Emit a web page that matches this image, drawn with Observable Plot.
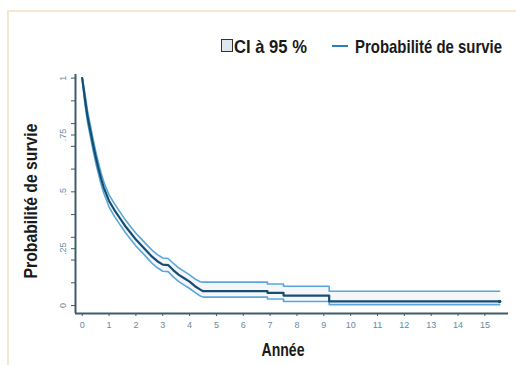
<!DOCTYPE html>
<html>
<head>
<meta charset="utf-8">
<script src="https://cdn.jsdelivr.net/npm/d3@7"></script>
<script src="https://cdn.jsdelivr.net/npm/@observablehq/plot@0.6"></script>
<style>
  html, body { margin: 0; padding: 0; background: #fff; }
  #wrap { position: relative; width: 516px; height: 365px; overflow: hidden; }
  #frame { position: absolute; left: 7px; top: 10px; width: 520px; height: 370px; border-top: 2px solid #f3e7cf; border-left: 2px solid #f3e7cf; }
  #chart { position: absolute; left: 0; top: 0; }
  #legend { position: absolute; left: 0; top: 0; }
</style>
</head>
<body>
<div id="wrap">
  <div id="frame"></div>
  <div id="chart"></div>
  <svg id="legend" width="516" height="60" font-family="'Liberation Sans', Arial, sans-serif" font-weight="bold" font-size="15" fill="#1a1a1a">
    <rect x="221.5" y="39.5" width="11" height="12" fill="#dfe8f1" stroke="#333" stroke-width="1"></rect>
    <text transform="translate(234,52.5) scale(1,1.2)" textLength="73" lengthAdjust="spacingAndGlyphs">CI à 95 %</text>
    <line x1="332" x2="348" y1="46" y2="46" stroke="#2f7dbd" stroke-width="2"></line>
    <text transform="translate(355,52.5) scale(1,1.2)" textLength="147" lengthAdjust="spacingAndGlyphs">Probabilité de survie</text>
  </svg>
</div>
<script>
// Vertices of the Kaplan-Meier curve (repeated year = vertical step)
const years = [0, 0.1, 0.2, 0.3, 0.4, 0.5, 0.6, 0.7, 0.8, 0.9, 1.0, 1.2, 1.4, 1.6, 1.8, 2.0, 2.2, 2.4, 2.6, 2.8, 3.0, 3.2, 3.4, 3.6, 3.8, 4.0, 4.2, 4.4, 4.5, 6.9, 6.9, 7.5, 7.5, 9.2, 9.2, 15.55];
// Survival probability
const survival = [1.0, 0.91, 0.83, 0.77, 0.71, 0.655, 0.605, 0.56, 0.52, 0.49, 0.46, 0.42, 0.385, 0.35, 0.32, 0.29, 0.265, 0.24, 0.215, 0.195, 0.18, 0.178, 0.155, 0.135, 0.12, 0.105, 0.085, 0.07, 0.063, 0.063, 0.056, 0.056, 0.044, 0.044, 0.018, 0.018];
// 95% CI upper bound
const ciUpper = [1.0, 0.935, 0.855, 0.795, 0.735, 0.68, 0.63, 0.585, 0.545, 0.515, 0.487, 0.448, 0.413, 0.378, 0.348, 0.318, 0.293, 0.268, 0.244, 0.224, 0.209, 0.207, 0.185, 0.165, 0.15, 0.135, 0.117, 0.105, 0.103, 0.103, 0.095, 0.095, 0.085, 0.085, 0.063, 0.063];
// 95% CI lower bound
const ciLower = [1.0, 0.885, 0.805, 0.745, 0.685, 0.63, 0.58, 0.535, 0.495, 0.465, 0.433, 0.392, 0.357, 0.322, 0.292, 0.262, 0.237, 0.212, 0.186, 0.166, 0.151, 0.149, 0.125, 0.105, 0.09, 0.075, 0.058, 0.042, 0.037, 0.037, 0.029, 0.029, 0.018, 0.018, 0.004, 0.004];

const xTicks = [0, 1, 2, 3, 4, 5, 6, 7, 8, 9, 10, 11, 12, 13, 14, 15];
const yTicks = [0, 0.1, 0.2, 0.25, 0.3, 0.4, 0.5, 0.6, 0.7, 0.75, 0.8, 0.9, 1];
const yTickLabels = new Map([[0, "0"], [0.25, ".25"], [0.5, ".5"], [0.75, ".75"], [1, "1"]]);

const data = years.map((t, i) => ({t, s: survival[i], hi: ciUpper[i], lo: ciLower[i]}));
const endPoint = [data[data.length - 1]];

const xMin = -0.25, yMin = -0.035;
const axisColor = "#3f5b6b";
const labelFont = "'Liberation Sans', Arial, sans-serif";

const chart = Plot.plot({
  width: 516,
  height: 365,
  marginLeft: 75,
  marginRight: 8,
  marginTop: 74,
  marginBottom: 52,
  style: {background: "transparent", fontFamily: "'Liberation Sans', sans-serif"},
  x: {domain: [xMin, 15.88]},
  y: {domain: [yMin, 1.016]},
  marks: [
    Plot.areaY(data, {x: "t", y1: "lo", y2: "hi", fill: "#f5f6fa"}),
    Plot.line(data, {x: "t", y: "hi", stroke: "#5aa8da", strokeWidth: 1.6}),
    Plot.line(data, {x: "t", y: "lo", stroke: "#5aa8da", strokeWidth: 1.6}),
    Plot.line(data, {x: "t", y: "s", stroke: "#164d70", strokeWidth: 2.2}),
    Plot.dot(endPoint, {x: "t", y: "s", r: 1.8, fill: "#164d70"}),
    Plot.ruleX([xMin], {stroke: axisColor, strokeWidth: 2}),
    Plot.ruleY([yMin], {stroke: axisColor, strokeWidth: 2}),
    Plot.axisY({ticks: yTicks, tickFormat: d => yTickLabels.get(d) ?? "", tickSize: 4, tickPadding: 6, tickRotate: -90, fontSize: 9, color: "#6a8aa0", stroke: axisColor, label: null}),
    Plot.axisX({ticks: xTicks, tickFormat: d => String(d), tickSize: 3, tickPadding: 5, fontSize: 9, color: "#6a8aa0", stroke: axisColor, label: null}),
    Plot.text(["Probabilité de survie"], {frameAnchor: "left", textAnchor: "middle", dx: -44, dy: 7, rotate: -90, fontSize: 18, fontWeight: "bold", fontFamily: labelFont, fill: "#1a1a1a"}),
    Plot.text(["Année"], {frameAnchor: "bottom", dx: -9, dy: 42, fontSize: 18, fontWeight: "bold", fontFamily: labelFont, fill: "#1a1a1a"})
  ]
});
// condense the bold titles to the narrow look of the original
const fitWidths = new Map([["Probabilité de survie", 155], ["Année", 43]]);
d3.select(chart).selectAll("text").each(function () {
  const w = fitWidths.get(this.textContent);
  if (w) d3.select(this).attr("textLength", w).attr("lengthAdjust", "spacingAndGlyphs");
});
document.getElementById("chart").appendChild(chart);
</script>
</body>
</html>
